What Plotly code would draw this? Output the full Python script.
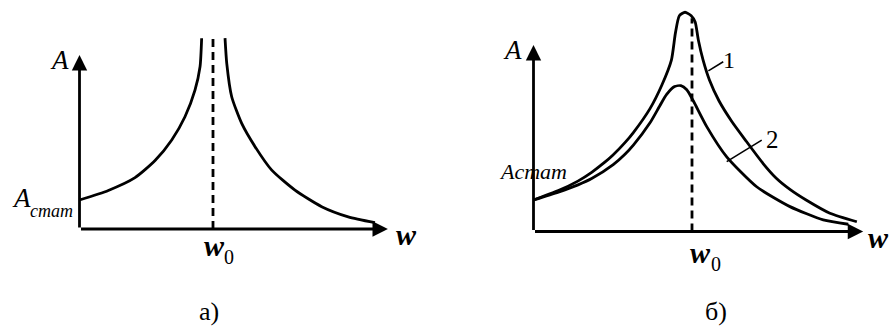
import plotly.graph_objects as go

# ---------------- data ----------------
# a) undamped forced oscillations: amplitude grows without bound near w0 (w in units of w0, A in units of A_stat)
a_left_w = [0.0, 0.216, 0.416, 0.566, 0.691, 0.790, 0.865, 0.903, 0.915]
a_left_A = [1.0, 1.33, 1.77, 2.36, 3.07, 3.87, 4.79, 5.60, 6.58]
a_right_w = [1.090, 1.103, 1.140, 1.215, 1.315, 1.440, 1.614, 1.814, 2.013, 2.213]
a_right_A = [6.58, 5.71, 4.56, 3.64, 2.84, 2.03, 1.34, 0.77, 0.42, 0.22]

# b) damped oscillations: curve 1 (weak damping), curve 2 (stronger damping)
b1_w = [0.0, 0.157, 0.28, 0.367, 0.45, 0.50, 0.577, 0.63, 0.735, 0.81, 0.87, 0.895, 0.92,
        0.956, 0.995, 1.02, 1.04, 1.07, 1.11, 1.17, 1.25, 1.34, 1.45, 1.53, 1.62, 1.72,
        1.87, 2.04]
b1_A = [1.0, 1.30, 1.60, 1.88, 2.20, 2.42, 2.82, 3.14, 3.90, 4.65, 5.44, 6.29, 6.85,
        6.96, 6.85, 6.65, 6.08, 5.44, 4.81, 4.15, 3.50, 2.88, 2.15, 1.70, 1.33, 1.0,
        0.58, 0.31]
b2_w = [0.0, 0.157, 0.281, 0.367, 0.503, 0.577, 0.630, 0.735, 0.798, 0.840, 0.890, 0.930,
        0.967, 1.008, 1.093, 1.219, 1.408, 1.618, 1.828, 1.986]
b2_A = [1.0, 1.25, 1.48, 1.68, 2.12, 2.45, 2.74, 3.45, 4.00, 4.35, 4.60, 4.63,
        4.50, 4.15, 3.33, 2.37, 1.42, 0.79, 0.37, 0.23]

# axis extents and resonance line (data units)
a_w_end, a_A_end, a_res_top = 2.31, 6.0, 6.66
b_w_end, b_A_end, b_res_top = 2.08, 5.92, 6.77
w0 = 1.0

# ---------------- geometry ----------------
W, H = 890, 327
# pixel position of each panel's origin and pixels per data unit
A_ORIG, A_SX, A_SY = (79.5, 229.0), 133.5, 29.0
B_ORIG, B_SX, B_SY = (533.5, 231.5), 158.5, 31.5

LW = 2.8
BLACK = "#000000"
SERIF = "Liberation Serif, Times New Roman, serif"

fig = go.Figure()


def curve(xs, ys, ax):
    fig.add_trace(go.Scatter(
        x=xs, y=ys, mode="lines", xaxis=ax[0], yaxis=ax[1],
        line=dict(color=BLACK, width=LW, shape="spline", smoothing=0.6),
        hoverinfo="skip", showlegend=False))


def resonance_line(top, ax):
    fig.add_trace(go.Scatter(
        x=[w0, w0], y=[0, top], mode="lines", xaxis=ax[0], yaxis=ax[1],
        line=dict(color=BLACK, width=LW, dash="8px,5px"),
        hoverinfo="skip", showlegend=False))


curve(a_left_w, a_left_A, ("x", "y"))
curve(a_right_w, a_right_A, ("x", "y"))
resonance_line(a_res_top, ("x", "y"))

curve(b1_w, b1_A, ("x2", "y2"))
curve(b2_w, b2_A, ("x2", "y2"))
resonance_line(b_res_top, ("x2", "y2"))

annotations = []


def axis_arrow(xr, yr, x_end, y_end):
    # arrow from the origin to the axis end
    annotations.append(dict(
        x=x_end, y=y_end, ax=0, ay=0, xref=xr, yref=yr, axref=xr, ayref=yr,
        showarrow=True, arrowhead=2, arrowsize=1.1, arrowwidth=LW,
        arrowcolor=BLACK, text=""))


axis_arrow("x", "y", a_w_end, 0)
axis_arrow("x", "y", 0, a_A_end)
axis_arrow("x2", "y2", b_w_end, 0)
axis_arrow("x2", "y2", 0, b_A_end)


def label(text, px, py, size, xanchor="center", yanchor="middle"):
    annotations.append(dict(
        text=text, x=px / W, y=1 - py / H, xref="paper", yref="paper",
        showarrow=False, xanchor=xanchor, yanchor=yanchor,
        font=dict(family=SERIF, size=size, color=BLACK)))


# panel a labels
label("<i>A</i>", 59, 60, 27)
label("<i>A</i>", 21, 198, 27)
label("<i>cmam</i>", 51, 211, 18)
label("<b><i>w</i></b>", 406, 235, 30)
label("<b><i>w</i></b>", 214, 245, 30)
label("0", 229, 257, 20)
label("a)", 209, 311, 26)

# panel b labels
label("<i>A</i>", 512, 50, 27)
label("<i>Acmam</i>", 497, 171, 22, xanchor="left")
label("<b><i>w</i></b>", 866, 237, 30, xanchor="left")
label("<b><i>w</i></b>", 700, 253, 30)
label("0", 716, 264, 20)
label("б)", 716, 311, 26)
label("1", 729, 60, 24)
label("2", 772.5, 140, 25)

# leader lines from the curve numbers
shapes = [
    dict(type="line", xref="x2", yref="y2", x0=1.103, y0=5.10, x1=1.197, y1=5.39,
         line=dict(color=BLACK, width=1.6)),
    dict(type="line", xref="x2", yref="y2", x0=1.219, y0=2.22, x1=1.440, y1=2.90,
         line=dict(color=BLACK, width=1.6)),
]


def rng(orig, sx, sy, left_px, right_px):
    ox, oy = orig
    xr = [(left_px - ox) / sx, (right_px - ox) / sx]
    yr = [(oy - H) / sy, oy / sy]
    return xr, yr


axr, ayr = rng(A_ORIG, A_SX, A_SY, 0, W / 2)
bxr, byr = rng(B_ORIG, B_SX, B_SY, W / 2, W)

hidden = dict(visible=False, showgrid=False, zeroline=False, fixedrange=True)

fig.update_layout(
    width=W, height=H,
    margin=dict(l=0, r=0, t=0, b=0),
    paper_bgcolor="white", plot_bgcolor="white",
    showlegend=False,
    xaxis=dict(domain=[0, 0.5], range=axr, **hidden),
    yaxis=dict(domain=[0, 1], range=ayr, **hidden),
    xaxis2=dict(domain=[0.5, 1], range=bxr, anchor="y2", **hidden),
    yaxis2=dict(domain=[0, 1], range=byr, anchor="x2", **hidden),
    annotations=annotations,
    shapes=shapes,
)

fig.write_html("out.html")
